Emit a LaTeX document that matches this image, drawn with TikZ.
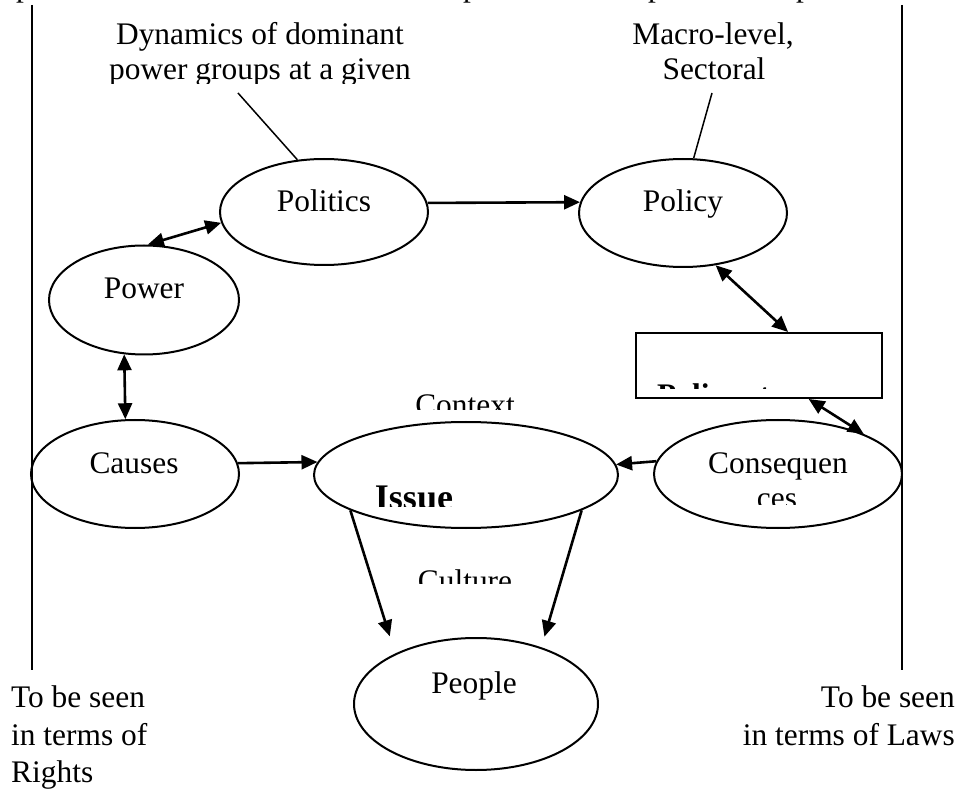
\documentclass[tikz,border=0pt]{standalone}
\usepackage{fontspec}
\setmainfont{Liberation Serif}
\usetikzlibrary{shapes.geometric,arrows.meta}
\begin{document}
\begin{tikzpicture}[x=1pt,y=-1pt,
  txt/.style={font=\fontsize{31.4}{36}\selectfont, inner sep=0pt, anchor=base},
  boldtxt/.style={font=\fontsize{31.4}{36}\selectfont\bfseries, inner sep=0pt, anchor=base west},
  oval/.style={draw, line width=2pt, ellipse, inner sep=0pt},
  link/.style={line width=2.6pt, -{Triangle[length=16pt,width=14pt]}},
  dlink/.style={line width=2.6pt, {Triangle[length=16pt,width=14pt]}-{Triangle[length=16pt,width=14pt]}},
  lead/.style={line width=1.5pt},
  frame/.style={line width=2pt}]
\useasboundingbox (0,0) rectangle (962,802);

% side rules
\coordinate (lTop) at (32,5);   \coordinate (lBot) at (32,670);
\coordinate (rTop) at (901.5,5); \coordinate (rBot) at (901.5,670);
\draw[frame] (lTop) -- (lBot);
\draw[frame] (rTop) -- (rBot);

% descenders of the line above the frame
\begin{scope}
  \clip (0,0) rectangle (962,20);
  \node[txt, anchor=base west] (pa) at (16,-3) {p};
  \node[txt, anchor=base west] (pb) at (463,-3) {p};
  \node[txt, anchor=base west] (pc) at (648,-3) {p};
  \node[txt, anchor=base west] (pd) at (796,-3) {p};
\end{scope}

% ovals
\node[oval, minimum width=208pt, minimum height=106pt] (politics) at (324,212) {};
\node[oval, minimum width=208pt, minimum height=108pt] (policy)   at (683,213) {};
\node[oval, minimum width=190pt, minimum height=109pt] (power)    at (144,300) {};
\node[oval, minimum width=208pt, minimum height=108pt] (causes)   at (135,474) {};
\node[oval, minimum width=304pt, minimum height=106pt] (issue)    at (466,475) {};
\node[oval, minimum width=248pt, minimum height=108pt] (conseq)   at (778,474) {};
\node[oval, minimum width=244pt, minimum height=132pt] (people)   at (476,704) {};
\node[draw, line width=2pt, inner sep=0pt, minimum width=246pt, minimum height=65pt] (box) at (759,365.5) {};

% oval labels
\node[txt] (politicsT) at (324,212) {Politics};
\node[txt] (policyT)   at (683,212) {Policy};
\node[txt] (powerT)    at (144,299) {Power};
\node[txt] (causesT)   at (134,473) {Causes};
\node[txt] (conseqT)   at (778,473) {Consequen};
\node[txt] (peopleT)   at (474,693) {People};
\begin{scope}
  \clip (700,480) rectangle (860,504);
  \node[txt] (conseqT2) at (777,508) {ces};
\end{scope}
\begin{scope}
  \clip (640,340) rectangle (880,389);
  \node[boldtxt] (boxT) at (657,406) {Policy stance};
\end{scope}
\begin{scope}
  \clip (380,380) rectangle (560,410);
  \node[txt] (contextT) at (465,416) {Context};
\end{scope}
\begin{scope}
  \clip (350,470) rectangle (480,506);
  \node[txt, font=\fontsize{36}{40}\selectfont\bfseries] (issueT) at (414,509) {Issue};
\end{scope}
\begin{scope}
  \clip (380,560) rectangle (560,583);
  \node[txt] (cultureT) at (465,591) {Culture};
\end{scope}

% annotations above
\node[txt] (dyn1) at (260,45) {Dynamics of dominant};
\begin{scope}
  \clip (80,55) rectangle (440,84);
  \node[txt] (dyn2) at (260,80) {power groups at a given};
\end{scope}
\node[txt] (mac1) at (713,45) {Macro-level,};
\node[txt] (mac2) at (714,80) {Sectoral};
\coordinate (dynEnd) at (238,93);
\coordinate (macEnd) at (712,93);
\draw[lead] (politics.117.8) -- (dynEnd);
\draw[lead] (policy.79.5) -- (macEnd);

% notes below
\node[txt, anchor=base west] (l1) at (11,707) {To be seen};
\node[txt, anchor=base west] (l2) at (11,745) {in terms of};
\node[txt, anchor=base west] (l3) at (11,782) {Rights};
\node[txt, anchor=base east] (r1) at (955,707) {To be seen};
\node[txt, anchor=base east] (r2) at (955,745) {in terms of Laws};

% connectors
\draw[link]  (politics.5) -- (policy.174.4);
\draw[dlink] (power.86) -- (politics.186);
\draw[dlink] (power.250.4) -- (causes.100.5);
\draw[link]  (causes.6.2) -- (issue.175.4);
\draw[link]  (conseq.174.9) -- (issue.4.6);
\draw[dlink] (policy.-58.1) -- (box.49.3);
\draw[dlink] (box.-34.4) -- (conseq.25.3);
\draw[link, shorten >=18pt] (issue.197) -- (people.148);
\draw[link, shorten >=11pt] (issue.-17) -- (people.41.8);
\end{tikzpicture}
\end{document}
